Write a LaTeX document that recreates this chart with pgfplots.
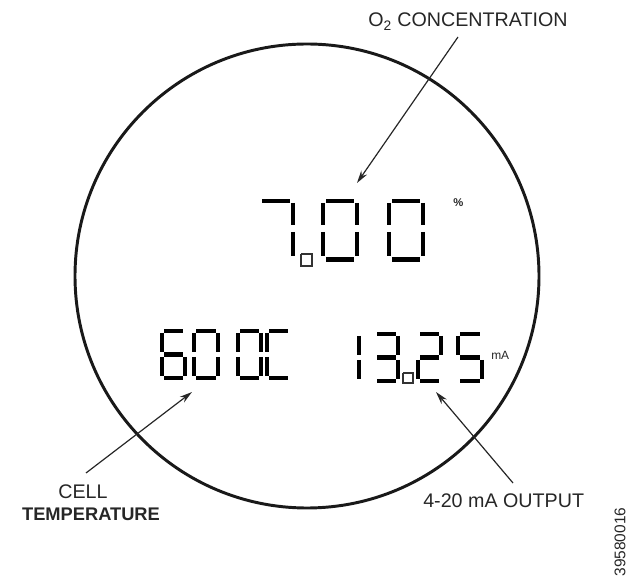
\documentclass[border=0pt]{standalone}
\usepackage{pgfplots}
\pgfplotsset{compat=1.18}
\usetikzlibrary{arrows.meta}
\usepackage{fontspec}
\setmainfont{Liberation Sans}
\newcommand{\seg}[4]{\addplot[segline] coordinates {(#1,#2) (#3,#4)};}
\begin{document}
\begin{tikzpicture}
\begin{axis}[scale only axis, width=15.7cm, height=14.5cm,
  xmin=0, xmax=628, ymin=0, ymax=580, y dir=reverse,
  hide axis, clip=false,
  segline/.style={black, line width=2.9pt, line cap=butt, no markers},
  arr/.style={black!85, line width=0.85pt, no markers, -{Stealth[length=9pt,width=5pt]}},
  sq/.style={black!80, line width=0.8pt, no markers},
]
\path (axis cs:0,0) rectangle (axis cs:628,580);
% frame circle
\draw[line width=2.1pt, black!90] (axis cs:307,276) circle[radius=5.8cm];
% ---- top row 7.00 ----
% 7
\seg{262}{201}{290}{201}
\seg{293}{203}{293}{225}
\seg{293}{232}{293}{256}
% 0
\seg{326}{201}{354}{201}
\seg{357}{203}{357}{225}
\seg{357}{232}{357}{256}
\seg{326}{259.5}{354}{259.5}
\seg{323}{232}{323}{256}
\seg{323}{203}{323}{225}
% 0
\seg{392}{201}{420}{201}
\seg{423}{203}{423}{225}
\seg{423}{232}{423}{256}
\seg{392}{259.5}{420}{259.5}
\seg{389}{232}{389}{256}
\seg{389}{203}{389}{225}
% decimal square
\addplot[sq] coordinates {(301,254) (312,254) (312,266) (301,266) (301,254)};
% ---- bottom row 600C ----
% 6
\seg{164}{331}{183}{331}
\seg{162}{333}{162}{352}
\seg{164}{354.5}{183}{354.5}
\seg{162}{357}{162}{376}
\seg{185}{357}{185}{376}
\seg{164}{378}{183}{378}
% 0
\seg{196}{331}{216}{331}
\seg{218}{333}{218}{352}
\seg{218}{357}{218}{376}
\seg{196}{378}{216}{378}
\seg{194}{357}{194}{376}
\seg{194}{333}{194}{352}
% 0
\seg{240}{331}{259}{331}
\seg{261}{333}{261}{352}
\seg{261}{357}{261}{376}
\seg{240}{378}{259}{378}
\seg{238}{357}{238}{376}
\seg{238}{333}{238}{352}
% C
\seg{269}{331}{288}{331}
\seg{267}{333}{267}{352}
\seg{267}{357}{267}{376}
\seg{269}{378}{288}{378}
% ---- bottom row 13.25 ----
% 1
\seg{359}{336}{359}{355}
\seg{359}{360}{359}{379}
% 3
\seg{377}{334}{396}{334}
\seg{398}{336}{398}{355}
\seg{377}{357.5}{396}{357.5}
\seg{398}{360}{398}{379}
\seg{377}{381}{396}{381}
% decimal square
\addplot[sq] coordinates {(403,373) (413,373) (413,383) (403,383) (403,373)};
% 2
\seg{420}{334}{439}{334}
\seg{441}{336}{441}{355}
\seg{420}{357.5}{439}{357.5}
\seg{418}{360}{418}{379}
\seg{420}{381}{439}{381}
% 5
\seg{460}{334}{480}{334}
\seg{458}{336}{458}{355}
\seg{460}{357.5}{480}{357.5}
\seg{482}{360}{482}{379}
\seg{460}{381}{480}{381}
% ---- arrows ----
\addplot[arr] coordinates {(458,37) (357,183)};
\addplot[arr] coordinates {(86,473) (192,392)};
\addplot[arr] coordinates {(513,483) (436,392)};
% ---- texts ----
\node[anchor=base west, font=\fontsize{14}{16}\selectfont, text=black!85, inner sep=0pt] at (axis cs:368,27) {O\textsubscript{2} CONCENTRATION};
\node[anchor=base, font=\fontsize{14}{16}\selectfont, text=black!85, inner sep=0pt] at (axis cs:83,498) {CELL};
\node[anchor=base, font=\fontsize{13}{16}\selectfont\bfseries, text=black!85, inner sep=0pt] at (axis cs:91,521) {TEMPERATURE};
\node[anchor=base west, font=\fontsize{14}{16}\selectfont, text=black!85, inner sep=0pt] at (axis cs:423,507) {4-20 mA OUTPUT};
\node[anchor=base west, font=\fontsize{8}{9}\selectfont\bfseries, text=black!85, inner sep=0pt] at (axis cs:453,207) {\%};
\node[anchor=base west, font=\fontsize{8.5}{9}\selectfont, text=black!85, inner sep=0pt] at (axis cs:491,360) {mA};
\node[anchor=center, rotate=90, font=\fontsize{11}{13}\selectfont, text=black!85, inner sep=0pt] at (axis cs:620,542) {39580016};
\end{axis}
\end{tikzpicture}
\end{document}
